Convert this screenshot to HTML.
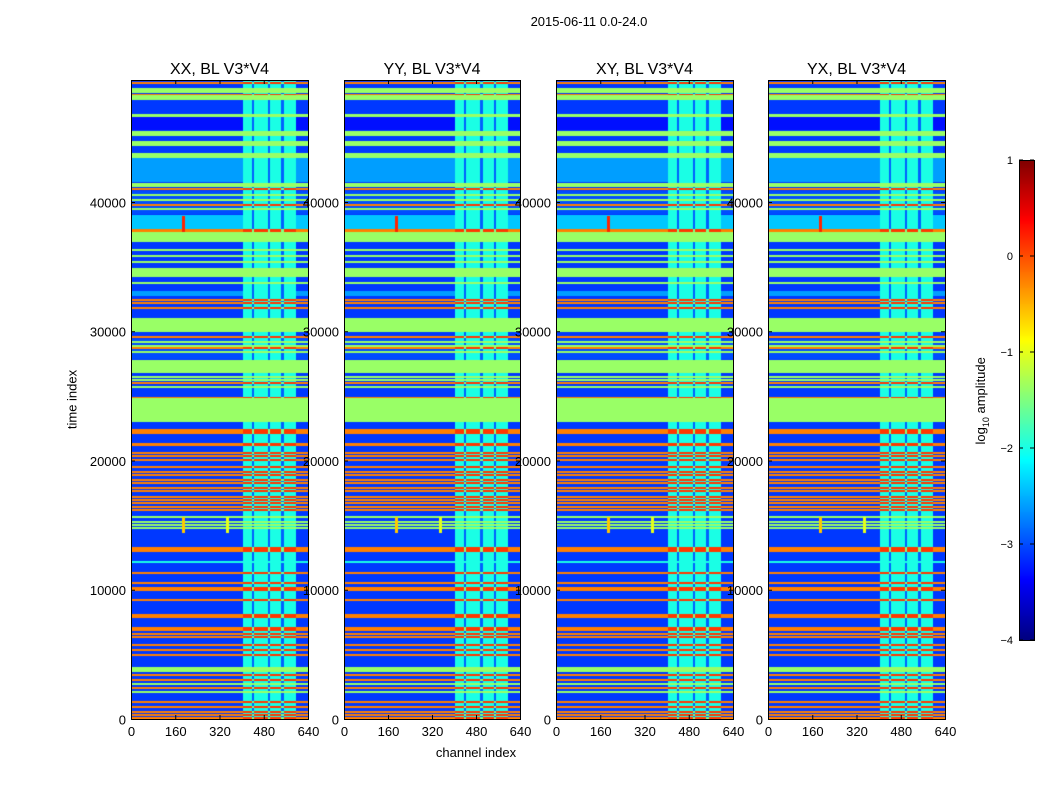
<!DOCTYPE html>
<html><head><meta charset="utf-8">
<style>
body{margin:0;background:#fff;width:1050px;height:800px;position:relative;overflow:hidden;font-family:"Liberation Sans",sans-serif;}
.t{position:absolute;white-space:nowrap;color:#000;}
canvas{position:absolute;}
svg{position:absolute;left:0;top:0;}
</style></head>
<body>
<div class="t" style="left:489px;top:14px;width:200px;text-align:center;font-size:13px;">2015-06-11 0.0-24.0</div>
<div class="t" style="left:376px;top:745px;width:200px;text-align:center;font-size:13px;">channel index</div>
<div class="t" style="left:22px;top:392px;width:100px;text-align:center;font-size:13px;transform:rotate(-90deg);">time index</div>
<div class="t" style="left:922px;top:392px;width:120px;text-align:center;font-size:13px;transform:rotate(-90deg);">log<sub style="font-size:9px">10</sub> amplitude</div>
<div id="root"></div>
<svg id="ax" width="1050" height="800"></svg>
<script>
// ---- data ----
const panelTitles=["XX, BL V3*V4","YY, BL V3*V4","XY, BL V3*V4","YX, BL V3*V4"];
const xTicks=[0,160,320,480,640];
const yTicks=[0,10000,20000,30000,40000];
const cbTicks=[1,0,-1,-2,-3,-4];
const bandStart=[49130,48434,48279,47892,46809,46577,45571,45107,44797,44333,43869,43405,41548,41161,40929,39072,37911,37700,36905,34894,34198,33811,33656,33192,32728,31180,29942,29633,27853,26770,24913,24836,22979,21122,12921,3636,0];
const bandEnd=[49285,48820,48356,48279,47815,46809,46577,45494,45029,44720,44256,43791,43405,41470,41083,40851,38994,37900,37679,36828,34894,34198,33811,33579,33114,31644,31025,29865,29401,27775,26693,24913,24836,21354,13308,4023,155];
const bandLevel=[-0.25,-1.375,-0.25,-1.375,-3.1,-1.375,-3.3,-1.375,-3.1,-1.375,-3.1,-1.375,-2.6,-1.375,-0.25,-3.0,-2.4,-0.25,-1.375,-3.1,-1.375,-3.1,-1.375,-3.1,-2.6,-3.1,-1.375,-3.1,-3.0,-1.375,-3.1,-0.25,-1.375,-0.25,-0.25,-1.375,-0.25];
const lineTimes=[40542,40155,39768,39459,36286,35822,35358,32418,32186,31799,29555,29168,28859,28704,28395,26461,26228,25996,25687,22360,22205,22128,20580,20348,20039,19497,19110,18878,18491,18259,17872,17640,17176,16944,16712,16402,16170,15629,15242,15010,14777,12147,11296,10522,10135,9980,9207,8046,7892,7041,6886,6576,6344,5725,5339,4952,3404,3017,2708,2398,2089,1315,928,542,309];
const lineLevels=[-1.375,-1.375,-0.25,-1.375,-1.375,-1.375,-1.375,-0.25,-0.25,-0.25,-0.25,-1.375,-1.375,-0.25,-1.375,-1.375,-1.375,-0.25,-1.375,-0.25,-0.25,-0.25,-0.25,-0.25,-0.25,-0.25,-0.25,-0.25,-0.25,-0.25,-0.25,-0.25,-0.25,-0.25,-0.25,-0.25,-0.25,-1.375,-1.375,-1.375,-1.375,-2.0,-0.25,-0.25,-0.25,-0.25,-0.25,-0.25,-0.25,-0.25,-0.25,-0.25,-0.25,-0.25,-0.25,-0.25,-0.25,-0.25,-1.375,-0.25,-1.375,-0.25,-0.25,-0.25,-0.25,-1.375];
const overlayChannels=[405,597];
const stripeChannels=[440,500,548];
const spikeChannels=[190,190,350];
const spikeTimes=[38300,15000,15000];
const spikeLevels=[0.2,-0.6,-1.0];
const yMax=49439, xMax=640, vMin=-4, vMax=1;
// ---- layout ----
const panels=[{x:131,w:177},{x:344,w:176},{x:556,w:177},{x:768,w:177}];
const top0=80, H=639;
function jet(v){let x=(v-vMin)/(vMax-vMin);x=Math.max(0,Math.min(1,x));
 const c=a=>Math.round(255*Math.max(0,Math.min(1,a)));
 return [c(1.5-Math.abs(4*x-3)),c(1.5-Math.abs(4*x-2)),c(1.5-Math.abs(4*x-1))];}
function levelAt(t,ch){
 let lv=-3.1;
 for(let i=0;i<bandStart.length;i++) if(t>=bandStart[i]&&t<=bandEnd[i]) lv=bandLevel[i];
 for(let i=0;i<lineTimes.length;i++) if(Math.abs(t-lineTimes[i])<75) lv=lineLevels[i];
 if(ch>=overlayChannels[0]&&ch<=overlayChannels[1]){
  let stripe=stripeChannels.some(s=>Math.abs(ch-s)<4);
  if(lv<-2.2) lv=stripe?-2.9:-2.0;
  else if(lv===-0.25) lv=stripe?-1.5:0.1;
 }
 for(let i=0;i<spikeChannels.length;i++) if(Math.abs(ch-spikeChannels[i])<5&&Math.abs(t-spikeTimes[i])<600) lv=spikeLevels[i];
 return lv;}
const root=document.getElementById('root');
const ax=document.getElementById('ax');
const NS='http://www.w3.org/2000/svg';
function sv(tag,attrs){const e=document.createElementNS(NS,tag);for(const k in attrs)e.setAttribute(k,attrs[k]);ax.appendChild(e);return e;}
function txt(x,y,s,anchor,size){const e=sv('text',{x:x,y:y,'text-anchor':anchor,'font-size':size,'font-family':'Liberation Sans, sans-serif'});e.textContent=s;return e;}
panels.forEach((p,k)=>{
 const cv=document.createElement('canvas');
 
 
 cv.width=p.w;cv.height=H;cv.style.left=p.x+'px';cv.style.top=top0+'px';
 root.appendChild(cv);
 const ctx=cv.getContext('2d');const img=ctx.createImageData(p.w,H);
 const colCh=[];for(let px=0;px<p.w;px++)colCh.push((px+0.5)/p.w*xMax);
 for(let py=0;py<H;py++){const t=yMax*(1-(py+0.5)/H);
  for(let px=0;px<p.w;px++){const c=jet(levelAt(t,colCh[px]));const o=(py*p.w+px)*4;
   img.data[o]=c[0];img.data[o+1]=c[1];img.data[o+2]=c[2];img.data[o+3]=255;}}
 ctx.putImageData(img,0,0);
 const f=sv('rect',{x:p.x+0.5,y:top0+0.5,width:p.w,height:H,fill:'none',stroke:'#000','stroke-width':1});
 
 const tt=txt(p.x+p.w/2,74,panelTitles[k],'middle',16);
 
 xTicks.forEach(v=>{const x=p.x+v/xMax*p.w+0.5;
  sv('line',{x1:x,x2:x,y1:top0+H,y2:top0+H-4,stroke:'#000'});
  sv('line',{x1:x,x2:x,y1:top0,y2:top0+4,stroke:'#000'});
  const l=txt(x,top0+H+17,String(v),'middle',13);
  });
 yTicks.forEach(v=>{const y=top0+H-v/yMax*H+0.5;
  sv('line',{x1:p.x,x2:p.x+4,y1:y,y2:y,stroke:'#000'});
  sv('line',{x1:p.x+p.w,x2:p.x+p.w-4,y1:y,y2:y,stroke:'#000'});
  const l=txt(p.x-5,y+5,String(v),'end',13);
  });
});
// colorbar
const cb={x:1019,y:160,w:15,h:480};
const cc=document.createElement('canvas');


cc.width=cb.w;cc.height=cb.h;cc.style.left=cb.x+'px';cc.style.top=cb.y+'px';root.appendChild(cc);
const cx=cc.getContext('2d');
for(let i=0;i<cb.h;i++){const c=jet(vMax-(i+0.5)/cb.h*(vMax-vMin));cx.fillStyle=`rgb(${c[0]},${c[1]},${c[2]})`;cx.fillRect(0,i,cb.w,1);}
sv('rect',{x:cb.x+0.5,y:cb.y+0.5,width:cb.w,height:cb.h,fill:'none',stroke:'#000'});
cbTicks.forEach(v=>{const y=cb.y+(vMax-v)/(vMax-vMin)*cb.h;
 sv('line',{x1:cb.x,x2:cb.x+4,y1:y,y2:y,stroke:'#000'});
 sv('line',{x1:cb.x+cb.w,x2:cb.x+cb.w-4,y1:y,y2:y,stroke:'#000'});
 const l=txt(cb.x-6,y+4,v<0?'\u2212'+(-v):String(v),'end',11);
 });
</script>
</body></html>
